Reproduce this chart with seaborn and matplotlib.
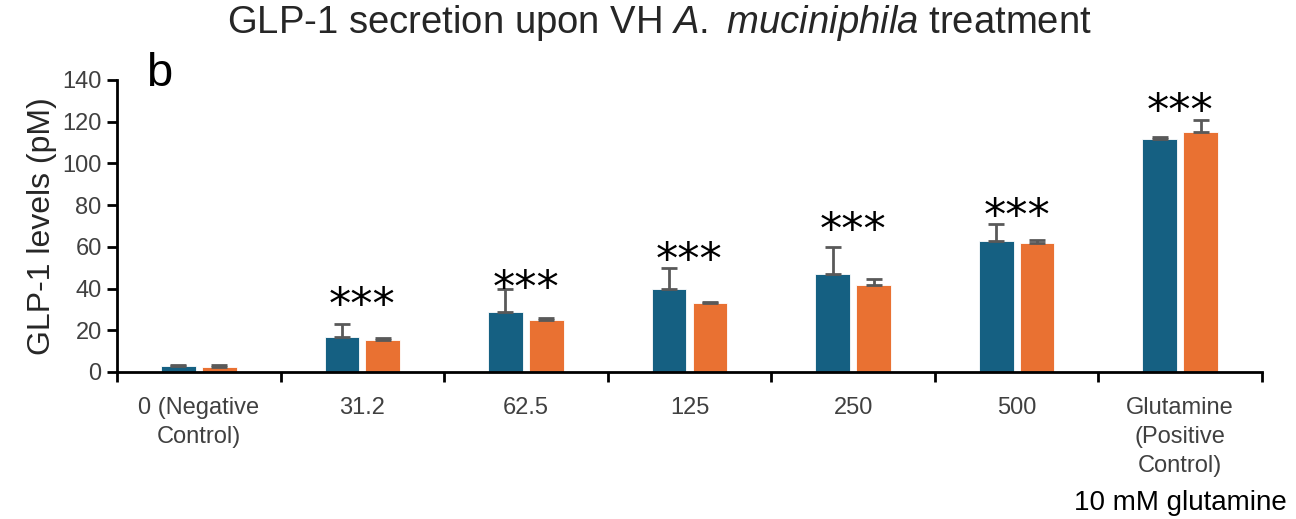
import numpy as np
import pandas as pd
import matplotlib
matplotlib.use("Agg")
import matplotlib.pyplot as plt
import seaborn as sns

# values
categories=["0 (Negative\nControl)","31.2","62.5","125","250","500","Glutamine\n(Positive\nControl)"]
series_names=["Replicate 1","Replicate 2"]
blue_vals=[3.0,16.6,28.6,39.8,47.1,63.0,111.9]
blue_err=[0.5,6.3,11.2,10.1,12.7,8.0,0.9]
orange_vals=[2.2,15.5,24.8,33.2,41.9,61.7,115.1]
orange_err=[1.1,0.8,0.9,0.4,2.7,1.4,5.6]
star_y=[None,36,44,57.5,72,78.8,129]
y_ticks=[0,20,40,60,80,100,120,140]

sns.set_theme(style="white")
plt.rcParams['font.family']=['Liberation Sans','DejaVu Sans']
plt.rcParams['mathtext.fontset']='custom'
plt.rcParams['mathtext.rm']='Liberation Sans'
plt.rcParams['mathtext.it']='Liberation Sans:italic'

df=pd.DataFrame({
    "conc":categories*2,
    "level":blue_vals+orange_vals,
    "series":[series_names[0]]*len(categories)+[series_names[1]]*len(categories),
})

fig=plt.figure(figsize=(12.96,5.19),dpi=100)
ax=fig.add_axes([117/1296,1-372/519,(1262-117)/1296,(372-80)/519])

sns.barplot(data=df,x="conc",y="level",hue="series",palette=["#156082","#E97132"],
            saturation=1,width=0.5,gap=0.15,errorbar=None,legend=False,ax=ax,
            edgecolor="white",linewidth=0.6)

# one-sided error bars on top of each bar
for cont,errs in zip(ax.containers,[blue_err,orange_err]):
    for bar,e in zip(cont,errs):
        xc=bar.get_x()+bar.get_width()/2
        h=bar.get_height()
        ax.errorbar(xc,h,yerr=[[0],[e]],fmt="none",ecolor="#595959",elinewidth=2,
                    capsize=6,capthick=2,zorder=3)

for i,sy in enumerate(star_y):
    if sy is None:
        continue
    ax.annotate("***",(i,sy),xytext=(0,-7),textcoords="offset points",ha="center",va="center",
                fontsize=32,color="black",family="DejaVu Sans")

ax.set_ylim(0,140)
ax.set_xlim(-0.5,len(categories)-0.5)
ax.set_yticks(y_ticks)
ax.set_xticks(np.arange(len(categories)+1)-0.5,minor=False)
ax.set_xticklabels([])
ax.set_xticks(np.arange(len(categories)),minor=True)
ax.set_xticklabels(categories,minor=True,fontsize=17,color="#404040",linespacing=1.42)
ax.tick_params(axis="x",which="minor",length=0,pad=18)
ax.tick_params(axis="x",which="major",direction="out",length=7,width=2,color="black",bottom=True)
ax.tick_params(axis="y",direction="out",length=7,width=2,color="black",left=True,labelsize=17,labelcolor="#404040",pad=4)
for s in ["top","right"]:
    ax.spines[s].set_visible(False)
for s in ["left","bottom"]:
    ax.spines[s].set_linewidth(2)
    ax.spines[s].set_color("black")
ax.set_xlabel("")
ax.set_ylabel("GLP-1 levels (pM)",fontsize=23,color="#262626",labelpad=4)

fig.text(0.509,0.955,"GLP-1 secretion upon VH $\\it{A.}$ $\\it{muciniphila}$ treatment",ha="center",va="center",
         fontsize=27.5,color="#262626")
fig.text(146/1296,1-74/519,"b",ha="left",va="center",fontsize=34,color="black")
fig.text(1180/1296,1-503/519,"10 mM glutamine",ha="center",va="center",fontsize=20,color="black")

plt.savefig("out.png",dpi=100)
